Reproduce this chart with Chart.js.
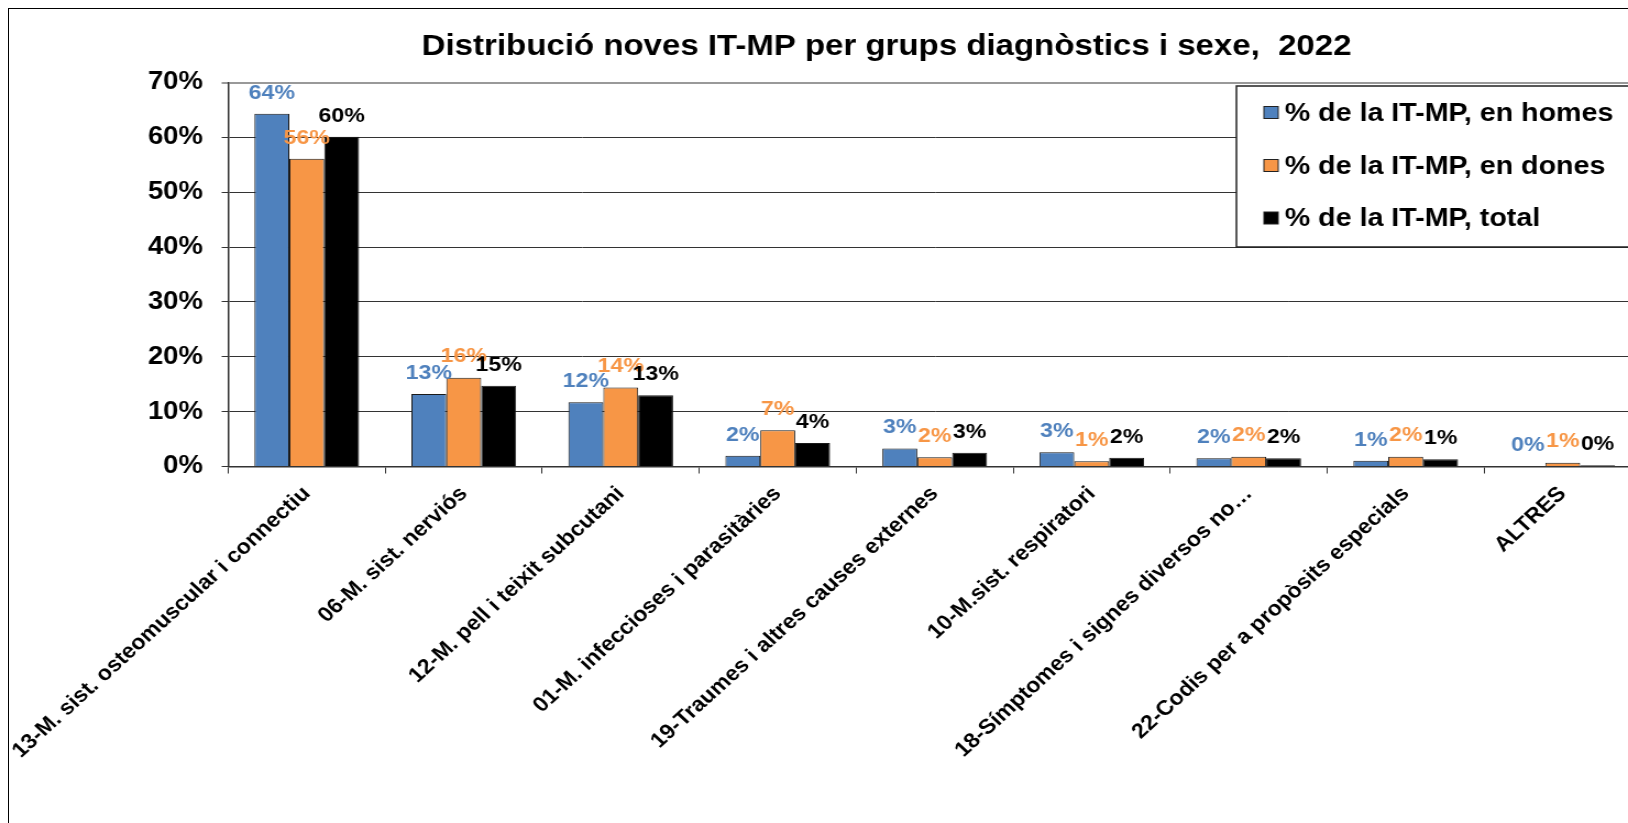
<!DOCTYPE html>
<html>
<head>
<meta charset="utf-8">
<script src="https://cdn.jsdelivr.net/npm/chart.js@4.4.1/dist/chart.umd.min.js"></script>
<style>
    html, body { margin: 0; padding: 0; background: #fff; overflow: hidden; width: 1628px; height: 823px; }
    #frame { position: absolute; left: 8px; top: 8px; width: 1700px; height: 900px; border: 1.5px solid #000; }
    /* el gràfic original està estirat en horitzontal */
    #wrap { position: absolute; left: 0; top: 0; width: 1510px; height: 823px; transform: scaleX(1.1); transform-origin: 0 0; }
</style>
</head>
<body>
<div id="frame"></div>
<div id="wrap"><canvas id="chart" width="1510" height="823"></canvas></div>
<script>
// Dades
const titleText = 'Distribució noves IT-MP per grups diagnòstics i sexe,  2022';
const categories = [
    '13-M. sist. osteomuscular i connectiu',
    '06-M. sist. nerviós',
    '12-M. pell i teixit subcutani',
    '01-M. infeccioses i parasitàries',
    '19-Traumes i altres causes externes',
    '10-M.sist. respiratori',
    '18-Símptomes i signes diversos no…',
    '22-Codis per a propòsits especials',
    'ALTRES'
];
const homes = [64.3, 13.2, 11.7, 1.95, 3.3, 2.6, 1.5, 1.04, 0.0];
const dones = [56.1, 16.2, 14.4, 6.6, 1.7, 0.97, 1.8, 1.8, 0.7];
const total = [60.1, 14.7, 13.0, 4.3, 2.5, 1.6, 1.5, 1.3, 0.24];
const seriesLabels = ['% de la IT-MP, en homes', '% de la IT-MP, en dones', '% de la IT-MP, total'];
const seriesColors = ['#4F81BD', '#F79646', '#000000'];
const valueColors = ['#4F81BD', '#F79646', '#000000'];
const yMax = 70;
const yStep = 10;

const FONT = '"Liberation Sans", Arial, sans-serif';

// Títol
const titlePlugin = {
    id: 'titleText',
    afterDraw(chart) {
        const ctx = chart.ctx;
        ctx.save();
        ctx.font = 'bold 30px ' + FONT;
        ctx.fillStyle = '#000';
        ctx.textAlign = 'center';
        ctx.textBaseline = 'alphabetic';
        ctx.fillText(titleText, 806, 55);
        ctx.restore();
    }
};

// Etiquetes de valor sobre les barres
const valueLabelsPlugin = {
    id: 'valueLabels',
    afterDatasetsDraw(chart) {
        const ctx = chart.ctx;
        ctx.save();
        ctx.font = 'bold 21px ' + FONT;
        ctx.textAlign = 'center';
        ctx.textBaseline = 'middle';
        chart.data.datasets.forEach((ds, i) => {
            const meta = chart.getDatasetMeta(i);
            ctx.fillStyle = valueColors[i];
            meta.data.forEach((bar, j) => {
                ctx.fillText(Math.round(ds.data[j]) + '%', bar.x, bar.y - 21);
            });
        });
        ctx.restore();
    }
};

// Llegenda dins d'un requadre
const legendBoxPlugin = {
    id: 'legendBox',
    afterDraw(chart) {
        const ctx = chart.ctx;
        const x = 1124, y = 86, w = 420, h = 161;
        ctx.save();
        ctx.fillStyle = '#fff';
        ctx.fillRect(x, y, w, h);
        ctx.strokeStyle = '#222';
        ctx.lineWidth = 1.5;
        ctx.strokeRect(x, y, w, h);
        ctx.font = 'bold 26px ' + FONT;
        ctx.textAlign = 'left';
        ctx.textBaseline = 'middle';
        const rows = [112.5, 165.5, 218];
        chart.data.datasets.forEach((ds, i) => {
            ctx.fillStyle = ds.backgroundColor;
            ctx.fillRect(1149, rows[i] - 6, 13, 12);
            ctx.strokeStyle = '#222';
            ctx.lineWidth = 1;
            ctx.strokeRect(1149, rows[i] - 6, 13, 12);
            ctx.fillStyle = '#000';
            ctx.fillText(ds.label, 1168, rows[i] + 1);
        });
        ctx.restore();
    }
};

const datasets = [homes, dones, total].map((values, i) => ({
    label: seriesLabels[i],
    data: values,
    backgroundColor: seriesColors[i],
    borderColor: '#1a1a1a',
    borderWidth: 1,
    categoryPercentage: 0.667,
    barPercentage: 1.0
}));

new Chart(document.getElementById('chart'), {
    type: 'bar',
    data: { labels: categories, datasets: datasets },
    options: {
        responsive: false,
        animation: false,
        devicePixelRatio: 1,
        layout: { padding: { top: 82.5, left: 0, right: 18, bottom: 0 } },
        plugins: {
            legend: { display: false },
            title: { display: false },
            tooltip: { enabled: false }
        },
        scales: {
            x: {
                grid: {
                    display: true,
                    drawOnChartArea: false,
                    drawTicks: true,
                    tickLength: 7,
                    color: '#333',
                    offset: true
                },
                border: { color: '#333', width: 1.5 },
                ticks: {
                    autoSkip: false,
                    minRotation: 45,
                    maxRotation: 45,
                    padding: 8,
                    color: '#000',
                    font: { family: FONT, size: 21, weight: 'bold' }
                },
                afterFit(scale) {
                    scale.height = 823 - 466.5;
                    scale.paddingLeft = 0;
                    scale.paddingRight = 0;
                }
            },
            y: {
                min: 0,
                max: yMax,
                ticks: {
                    stepSize: yStep,
                    padding: 17,
                    color: '#000',
                    font: { family: FONT, size: 25, weight: 'bold' },
                    callback: v => v + '%'
                },
                grid: {
                    color: ctx => ctx.tick && ctx.tick.value === yMax ? '#999' : '#333',
                    lineWidth: ctx => ctx.tick && ctx.tick.value === yMax ? 2 : 1,
                    tickLength: 6
                },
                border: { color: '#333', width: 1.5 },
                afterFit(scale) { scale.width = 207.5; }
            }
        }
    },
    plugins: [valueLabelsPlugin, legendBoxPlugin, titlePlugin]
});
</script>
</body>
</html>
